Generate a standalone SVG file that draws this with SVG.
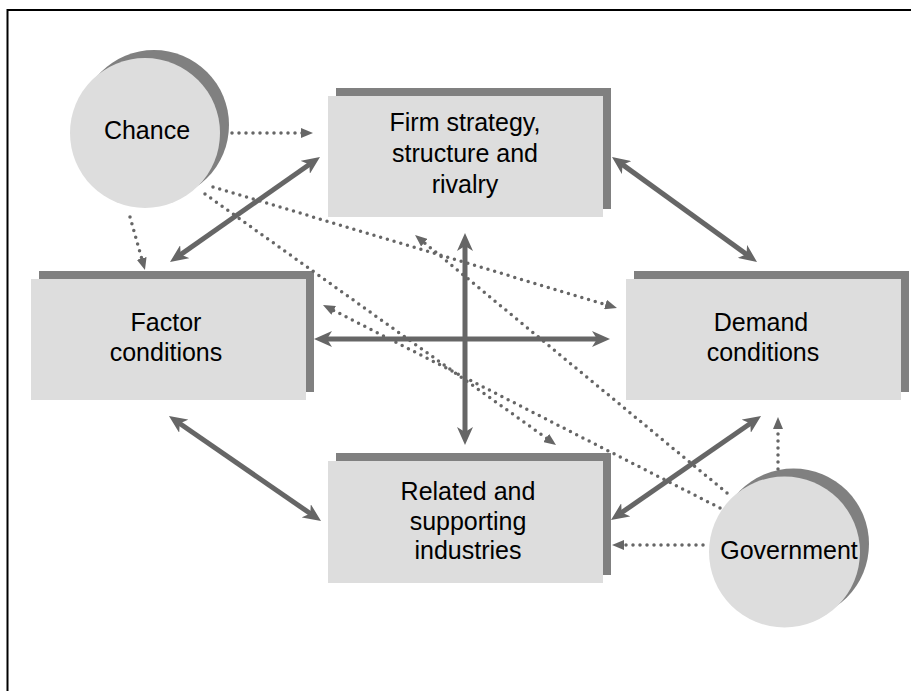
<svg xmlns="http://www.w3.org/2000/svg" width="911" height="691" viewBox="0 0 911 691">
<defs>
<style>
.fill{fill:#dddddd}
.shadow{fill:#808080}
.lbl{font-family:"Liberation Sans",Arial,sans-serif;font-size:25px;fill:#000;text-anchor:middle}
.solid{stroke:#666666;stroke-width:5;fill:none;marker-start:url(#bigHead);marker-end:url(#bigHead)}
.dot{stroke:#666666;stroke-width:3.5;fill:none;stroke-linecap:round;stroke-dasharray:0 7;marker-end:url(#smallHead)}
</style>
<marker id="bigHead" markerUnits="userSpaceOnUse" markerWidth="18" markerHeight="16" refX="8" refY="8" orient="auto-start-reverse" viewBox="0 0 18 16">
<path d="M0,0 L18,8 L0,16 L5,8 z" fill="#666666"/>
</marker>
<marker id="smallHead" markerUnits="userSpaceOnUse" markerWidth="12" markerHeight="10" refX="4" refY="5" orient="auto" viewBox="0 0 12 10">
<path d="M0,0 L12,5 L0,10 z" fill="#666666"/>
</marker>
</defs>
<rect x="0" y="0" width="911" height="691" fill="#ffffff"/>
<rect x="7.5" y="10" width="910" height="700" fill="none" stroke="#000000" stroke-width="2"/>

<g id="chance">
<circle class="shadow" cx="154" cy="125" r="75"/>
<circle class="fill" cx="145" cy="133" r="75"/>
<text class="lbl" x="147" y="139">Chance</text>
</g>

<g id="firm">
<rect class="shadow" x="336" y="88" width="275" height="121"/>
<rect class="fill" x="328" y="96" width="275" height="121"/>
<text class="lbl" x="465" y="131">Firm strategy,</text>
<text class="lbl" x="465" y="162">structure and</text>
<text class="lbl" x="465" y="193">rivalry</text>
</g>

<g id="factor">
<rect class="shadow" x="39" y="271" width="275" height="121"/>
<rect class="fill" x="31" y="279" width="275" height="121"/>
<text class="lbl" x="166" y="331">Factor</text>
<text class="lbl" x="166" y="361">conditions</text>
</g>

<g id="demand">
<rect class="shadow" x="634" y="271" width="275" height="121"/>
<rect class="fill" x="626" y="279" width="275" height="121"/>
<text class="lbl" x="761" y="331">Demand</text>
<text class="lbl" x="763" y="361">conditions</text>
</g>

<g id="related">
<rect class="shadow" x="336" y="453" width="275" height="122"/>
<rect class="fill" x="328" y="461" width="275" height="122"/>
<text class="lbl" x="468" y="500">Related and</text>
<text class="lbl" x="468" y="530">supporting</text>
<text class="lbl" x="468" y="559">industries</text>
</g>

<g id="government">
<circle class="shadow" cx="793.5" cy="544" r="75.5"/>
<circle class="fill" cx="784.5" cy="552" r="75.5"/>
<text class="lbl" x="789" y="559">Government</text>
</g>

<g id="connectors">
<line class="solid" x1="178.2" y1="256.3" x2="311.8" y2="162.7"/>
<line class="solid" x1="620.1" y1="162.9" x2="748.9" y2="256.1"/>
<line class="solid" x1="177.2" y1="421.7" x2="312.8" y2="515.3"/>
<line class="solid" x1="619.2" y1="514.3" x2="752.8" y2="421.7"/>
<line class="solid" x1="324" y1="339" x2="600" y2="339"/>
<line class="solid" x1="465" y1="243" x2="465" y2="435"/>

<line class="dot" x1="232" y1="133" x2="305" y2="133"/>
<line class="dot" x1="130" y1="217" x2="142.8" y2="262.3"/>
<line class="dot" x1="213" y1="187" x2="609.3" y2="305.7"/>
<line class="dot" x1="205" y1="194" x2="549.5" y2="440.3"/>
<line class="dot" x1="727" y1="493" x2="421.2" y2="240.1"/>
<line class="dot" x1="720" y1="508" x2="330.1" y2="308.6"/>
<line class="dot" x1="703" y1="545" x2="620" y2="545"/>
<line class="dot" x1="778" y1="469" x2="778" y2="425"/>
</g>
</svg>
